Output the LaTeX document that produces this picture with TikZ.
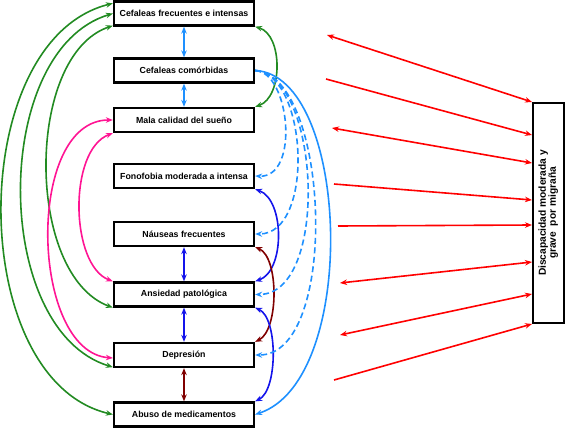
\documentclass[tikz,border=0pt]{standalone}
\usepackage{fontspec}
\setmainfont{Liberation Sans}
\usetikzlibrary{arrows.meta}
\definecolor{cgreen}{RGB}{34,139,34}
\definecolor{cpink}{RGB}{255,20,147}
\definecolor{cltblue}{RGB}{30,144,255}
\definecolor{cblue}{RGB}{20,20,235}
\definecolor{cdred}{RGB}{128,0,0}
\definecolor{cred}{RGB}{255,0,0}
\tikzset{
  box/.style={draw, line width=2.3pt, minimum width=140pt, minimum height=24pt,
    inner sep=0pt, font=\fontsize{8.8}{10}\selectfont\bfseries, fill=white},
  bigbox/.style={draw, line width=2pt, minimum width=31pt, minimum height=220pt,
    inner sep=0pt, font=\fontsize{10.2}{12}\selectfont\bfseries},
  tip/.tip={Stealth[length=7pt,width=5.5pt]},
  con/.style={line width=1.6pt},
  both/.style={con, tip-tip},
  one/.style={con, -tip},
  dsh/.style={dash pattern=on 6pt off 3.5pt},
}
\begin{document}
\begin{tikzpicture}[x=1pt,y=-1pt]
\useasboundingbox (0,0) rectangle (566,431);
% boxes
\node[box] (b1) at (184,13.5) {Cefaleas frecuentes e intensas};
\node[box] (b2) at (184,70.5) {Cefaleas comórbidas};
\node[box] (b3) at (184,120) {Mala calidad del sueño};
\node[box] (b4) at (184,176) {Fonofobia moderada a intensa};
\node[box] (b5) at (184,234) {Náuseas frecuentes};
\node[box] (b6) at (184,294.5) {Ansiedad patológica};
\node[box] (b7) at (184,355) {Depresión};
\node[box] (b8) at (184,414.5) {Abuso de medicamentos};
\node[bigbox] (d) at (548.5,213) {\rotatebox{90}{\begin{tabular}{@{}c@{}}Discapacidad moderada y\\[-2pt]grave \ por migraña\end{tabular}}};

% vertical arrows
\draw[both, cltblue] (b1.south) -- (b2.north);
\draw[both, cltblue] (b2.south) -- (b3.north);
\draw[both, cblue] (b5.south) -- (b6.north);
\draw[both, cblue] (b6.south) -- (b7.north);
\draw[both, cdred] (b7.south) -- (b8.north);

% green left
\draw[both, cgreen] ([yshift=-3pt]b1.north west) .. controls (-35,40) and (-35,380) .. (b8.west);
\draw[both, cgreen] (b1.west) .. controls (-9,50) and (-9,330) .. ([yshift=1pt]b7.south west);
\draw[both, cgreen] ([yshift=1pt]b1.south west) .. controls (25,55) and (25,275) .. (b6.south west);
% pink left
\draw[both, cpink] (b3.west) .. controls (25,120) and (30,352) .. ([yshift=-3pt]b7.west);
\draw[both, cpink] (b3.south west) .. controls (68,150) and (70,265) .. (b6.north west);
% green right
\draw[both, cgreen] (b1.south east) .. controls (283,35) and (283,97) .. (b3.north east);
% blue / dark red right
\draw[both, cblue] (b4.south east) .. controls (285,200) and (285,271) .. (b6.north east);
\draw[both, cdred] (b5.south east) .. controls (279,257) and (279,330) .. (b7.north east);
\draw[both, cblue] (b6.south east) .. controls (278,318) and (278,390) .. (b8.north east);
% light blue from b2
\draw[one, cltblue, dsh] (b2.east) .. controls (290,72) and (300,178) .. (b4.east);
\draw[one, cltblue, dsh] (b2.east) .. controls (308,74) and (315,234) .. (b5.east);
\draw[one, cltblue, dsh] (b2.east) .. controls (320,75) and (330,294) .. (b6.east);
\draw[one, cltblue, dsh] (b2.east) .. controls (330,75) and (340,355) .. (b7.east);
\draw[one, cltblue] (b2.east) .. controls (350,75) and (360,380) .. (b8.east);

% red arrows
\coordinate (s1) at (327,35);
\coordinate (s2) at (326,79);
\coordinate (s3) at (332,128);
\coordinate (s4) at (334,184);
\coordinate (s5) at (338,226);
\coordinate (s6) at (340,283);
\coordinate (s7) at (340,335);
\coordinate (s8) at (334,380);
\draw[both, cred] (s1) -- (d.north west);
\draw[one, cred] (s2) -- ([yshift=-33pt]d.north west);
\draw[both, cred] (s3) -- ([yshift=-61pt]d.north west);
\draw[one, cred] (s4) -- ([yshift=-98pt]d.north west);
\draw[one, cred] (s5) -- ([yshift=-123pt]d.north west);
\draw[both, cred] (s6) -- ([yshift=-160pt]d.north west);
\draw[both, cred] (s7) -- ([yshift=-192pt]d.north west);
\draw[one, cred] (s8) -- (d.south west);
\end{tikzpicture}
\end{document}
